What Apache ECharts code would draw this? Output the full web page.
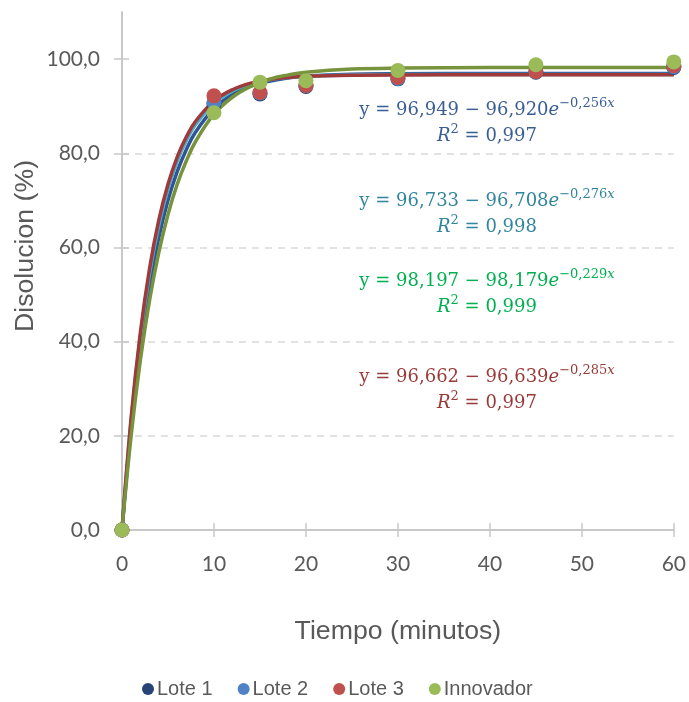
<!DOCTYPE html>
<html>
<head>
<meta charset="utf-8">
<script src="https://cdn.jsdelivr.net/npm/echarts@6/dist/echarts.min.js"></script>
<style>
  html, body { margin: 0; padding: 0; background: #fff; }
  #chart { width: 689px; height: 702px; }
</style>
</head>
<body>
<div id="chart"></div>
<script>
  // puntos medidos (min, %)
  const tiempo = [0, 10, 15, 20, 30, 45, 60]
  const lote1 = [0, 90.5, 92.6, 94.2, 95.8, 97.2, 98.2]
  const lote2 = [0, 90.8, 92.8, 94.4, 95.9, 97.3, 98.4]
  const lote3 = [0, 92.2, 92.9, 94.4, 96.1, 97.3, 98.6]
  const innovador = [0, 88.6, 95.1, 95.4, 97.6, 98.8, 99.4]

  // curvas de ajuste
  const tiempoAjuste = [0, 1, 2, 3, 4, 5, 6, 7, 8, 10, 12, 14, 16, 18, 20, 25, 30, 40, 50, 60]
  const ajusteLote1 = [0.0, 21.9, 38.9, 52.0, 62.1, 70.0, 76.1, 80.8, 84.5, 89.5, 92.5, 94.3, 95.3, 96.0, 96.4, 96.8, 96.9, 96.95, 96.95, 96.95]
  const ajusteLote2 = [0.0, 23.4, 41.1, 54.5, 64.7, 72.4, 78.3, 82.7, 86.1, 90.6, 93.2, 94.7, 95.6, 96.1, 96.35, 96.63, 96.71, 96.73, 96.73, 96.73]
  const ajusteLote3 = [0.0, 24.0, 42.0, 55.6, 65.8, 73.4, 79.2, 83.5, 86.8, 91.1, 93.5, 94.9, 95.65, 96.09, 96.34, 96.58, 96.64, 96.66, 96.66, 96.66]
  const ajusteInnovador = [0.0, 20.1, 36.1, 48.8, 58.9, 67.0, 73.4, 78.4, 82.5, 88.3, 91.9, 94.2, 95.7, 96.6, 97.2, 97.88, 98.09, 98.19, 98.2, 98.2]

  const yTicks = [0, 20, 40, 60, 80, 100]
  const xTicks = [0, 10, 20, 30, 40, 50, 60]

  const ecuaciones = [
    { a: '96,949', b: '96,920', k: '0,256', r2: '0,997', color: '#3A5E94', y: 97 },
    { a: '96,733', b: '96,708', k: '0,276', r2: '0,998', color: '#31859C', y: 188 },
    { a: '98,197', b: '98,179', k: '0,229', r2: '0,999', color: '#00B050', y: 268 },
    { a: '96,662', b: '96,639', k: '0,285', r2: '0,997', color: '#983A38', y: 364 }
  ]

  const pares = (xs, ys) => xs.map((x, i) => [x, ys[i]])
  const fmt = v => v.toFixed(1).replace('.', ',')

  const axisGrey = '#C8C8C8'
  const labelGrey = '#595959'

  function puntos (name, ys, color) {
    return {
      name: name,
      type: 'scatter',
      data: pares(tiempo, ys),
      symbol: 'circle',
      symbolSize: 15,
      itemStyle: { color: color, opacity: 1 },
      z: 5
    }
  }

  function ajuste (name, ys, color) {
    return {
      name: name,
      type: 'line',
      data: pares(tiempoAjuste, ys),
      smooth: 0.4,
      showSymbol: false,
      silent: true,
      lineStyle: { color: color, width: 3.5 },
      itemStyle: { color: color },
      z: 2
    }
  }

  const rich = c => ({
    n: { fontFamily: 'DejaVu Serif', fontSize: 18, lineHeight: 26, color: c },
    i: { fontFamily: 'DejaVu Serif', fontStyle: 'italic', fontSize: 18, lineHeight: 26, color: c },
    s: { fontFamily: 'DejaVu Serif', fontSize: 13, lineHeight: 14, verticalAlign: 'top', color: c },
    si: { fontFamily: 'DejaVu Serif', fontStyle: 'italic', fontSize: 13, lineHeight: 14, verticalAlign: 'top', color: c }
  })

  const textos = ecuaciones.map(e => ({
    type: 'text',
    x: 487,
    y: e.y,
    silent: true,
    style: {
      text: '{n|y = ' + e.a + ' − ' + e.b + '}{i|e}{s|−' + e.k + '}{si|x}\n{i|R}{s|2}{n| = ' + e.r2 + '}',
      align: 'center',
      verticalAlign: 'top',
      fill: e.color,
      rich: rich(e.color)
    }
  }))

  textos.push({
    type: 'text',
    x: 26,
    y: 246,
    rotation: Math.PI / 2,
    silent: true,
    style: {
      text: 'Disolucion (%)',
      font: '26.7px "Liberation Sans"',
      fill: labelGrey,
      align: 'center',
      verticalAlign: 'middle'
    }
  })

  const chart = echarts.init(document.getElementById('chart'))
  chart.setOption({
    backgroundColor: '#fff',
    animation: false,
    grid: { left: 122, right: 14, top: 12, bottom: 172, containLabel: false },
    legend: {
      data: ['Lote 1', 'Lote 2', 'Lote 3', 'Innovador'],
      left: 137,
      top: 674,
      icon: 'circle',
      itemWidth: 12,
      itemHeight: 12,
      itemGap: 25,
      textStyle: { fontFamily: 'Liberation Sans', fontSize: 20, color: labelGrey, padding: [0, 0, 0, -2] }
    },
    xAxis: [{
      type: 'value',
      min: 0,
      max: 60,
      interval: 10,
      name: 'Tiempo (minutos)',
      nameLocation: 'middle',
      nameGap: 88,
      nameTextStyle: { fontFamily: 'Liberation Sans', fontSize: 26.7, color: labelGrey },
      axisLine: { show: true, onZero: false, lineStyle: { color: axisGrey, width: 2 } },
      axisTick: { show: true, length: 7, lineStyle: { color: axisGrey, width: 1.5 } },
      axisLabel: { margin: 24, fontFamily: 'Lato', fontSize: 21, color: labelGrey, customValues: xTicks },
      splitLine: { show: false }
    }, {
      type: 'value',
      min: 0,
      max: 60,
      interval: 10,
      position: 'bottom',
      axisLine: { show: false, onZero: false },
      axisTick: { show: true, inside: true, length: 7, lineStyle: { color: axisGrey, width: 1.5 } },
      axisLabel: { show: false },
      splitLine: { show: false }
    }],
    yAxis: [{
      type: 'value',
      min: 0,
      max: 110,
      interval: 20,
      axisLine: { show: true, onZero: false, lineStyle: { color: axisGrey, width: 2 } },
      axisTick: { show: true, length: 8, customValues: yTicks, lineStyle: { color: axisGrey, width: 1.5 } },
      axisLabel: { margin: 22, fontFamily: 'Lato', fontSize: 21, color: labelGrey, customValues: yTicks, formatter: fmt },
      splitLine: {
        show: true,
        showMinLine: false,
        showMaxLine: false,
        lineStyle: { color: '#D9D9D9', width: 1.5, type: [7, 6] }
      }
    }, {
      type: 'value',
      min: 0,
      max: 110,
      interval: 20,
      position: 'left',
      axisLine: { show: false, onZero: false },
      axisTick: { show: true, inside: true, length: 7, customValues: yTicks, lineStyle: { color: axisGrey, width: 1.5 } },
      axisLabel: { show: false },
      splitLine: { show: false }
    }],
    series: [
      ajuste('Ajuste Lote 1', ajusteLote1, '#2F5597'),
      ajuste('Ajuste Lote 2', ajusteLote2, '#4BACC6'),
      ajuste('Ajuste Lote 3', ajusteLote3, '#A0393A'),
      ajuste('Ajuste Innovador', ajusteInnovador, '#77933C'),
      puntos('Lote 1', lote1, '#264478'),
      puntos('Lote 2', lote2, '#5083C6'),
      puntos('Lote 3', lote3, '#C0504D'),
      puntos('Innovador', innovador, '#9BBB59')
    ],
    graphic: textos
  })
</script>
</body>
</html>
